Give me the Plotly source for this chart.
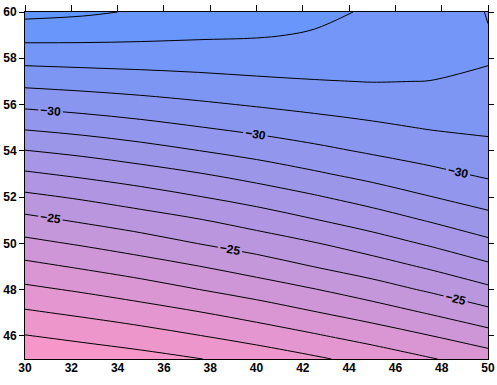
import plotly.graph_objects as go

# Longitudes (x) and latitudes (y) of the field grid
lon = [30, 32.5, 35, 37.5, 40, 42.5, 45, 47.5, 50]
lat = [45, 46, 47, 48, 49, 50, 51, 52, 53, 54, 55, 56, 57, 58, 59, 60]

# Field values per latitude row
t45 = [-19.10, -19.35, -19.63, -19.97, -20.38, -20.85, -21.36, -21.93, -22.48]
t46 = [-19.96, -20.26, -20.58, -20.97, -21.40, -21.89, -22.42, -22.98, -23.61]
t47 = [-20.86, -21.18, -21.54, -21.95, -22.42, -22.94, -23.47, -24.08, -24.73]
t48 = [-21.78, -22.13, -22.53, -22.99, -23.45, -23.96, -24.54, -25.14, -25.79]
t49 = [-22.73, -23.12, -23.53, -23.98, -24.48, -25.02, -25.54, -26.14, -26.81]
t50 = [-23.73, -24.12, -24.55, -25.02, -25.47, -25.95, -26.52, -27.13, -27.78]
t51 = [-24.73, -25.13, -25.53, -25.94, -26.42, -26.95, -27.49, -28.08, -28.66]
t52 = [-25.77, -26.13, -26.53, -26.96, -27.41, -27.90, -28.43, -28.97, -29.45]
t53 = [-26.86, -27.20, -27.56, -27.95, -28.39, -28.87, -29.33, -29.76, -30.15]
t54 = [-27.97, -28.26, -28.61, -28.99, -29.37, -29.76, -30.13, -30.44, -30.73]
t55 = [-29.11, -29.36, -29.65, -29.96, -30.26, -30.55, -30.82, -31.06, -31.17]
t56 = [-30.21, -30.41, -30.63, -30.86, -31.08, -31.28, -31.44, -31.52, -31.48]
t57 = [-31.30, -31.43, -31.56, -31.70, -31.85, -31.96, -32.02, -31.99, -31.79]
t58 = [-32.33, -32.39, -32.43, -32.47, -32.50, -32.45, -32.35, -32.25, -32.10]
t59 = [-33.33, -33.29, -33.22, -33.13, -33.07, -32.93, -32.65, -32.45, -32.04]
t60 = [-34.30, -34.15, -33.90, -33.60, -33.45, -33.20, -32.90, -32.60, -31.96]

x_ticks = [30, 32, 34, 36, 38, 40, 42, 44, 46, 48, 50]
y_ticks = [46, 48, 50, 52, 54, 56, 58, 60]
labeled_levels = [-30, -25]

temp = [t45, t46, t47, t48, t49, t50, t51, t52, t53, t54, t55, t56, t57, t58, t59, t60]

BLUE = "#5f96ff"
PINK = "#f796c8"
SMOOTH = 1

fig = go.Figure()

# Filled bands (primary axes)
fig.add_trace(go.Contour(
    x=lon, y=lat, z=temp,
    autocontour=False,
    contours=dict(start=-34, end=-20, size=1, coloring="fill", showlines=False),
    colorscale=[[0, BLUE], [1, PINK]],
    showscale=False,
    line=dict(width=0, smoothing=SMOOTH),
    hoverinfo="skip",
))

# Unlabelled contour lines (overlay x axis carrying the bottom labels)
for s, e in [(-34, -31), (-29, -26), (-24, -20)]:
    fig.add_trace(go.Contour(
        x=lon, y=lat, z=temp, xaxis="x2", yaxis="y",
        autocontour=False,
        contours=dict(start=s, end=e, size=1, coloring="none"),
        line=dict(color="black", width=1, smoothing=SMOOTH),
        showscale=False, hoverinfo="skip",
    ))

# Labelled contour lines
for lvl in labeled_levels:
    fig.add_trace(go.Contour(
        x=lon, y=lat, z=temp, xaxis="x2", yaxis="y",
        autocontour=False,
        contours=dict(start=lvl, end=lvl + 1000 * 59, size=1000, coloring="none",
                      showlabels=True, labelformat="d",
                      labelfont=dict(family="Liberation Sans", size=12, color="black",
                                     weight="bold")),
        line=dict(color="black", width=1, smoothing=SMOOTH),
        showscale=False, hoverinfo="skip",
    ))

tickfont = dict(family="Liberation Sans", size=12, color="black", weight="bold")

fig.update_layout(
    width=497, height=385,
    margin=dict(l=25, r=9, t=12, b=26),
    paper_bgcolor="white", plot_bgcolor="white",
    showlegend=False,
    # top axis: ticks only, line mirrored to the bottom
    xaxis=dict(type="linear", side="top", range=[30, 50], tickvals=x_ticks,
               ticks="outside", ticklen=6, tickwidth=1, tickcolor="black",
               showticklabels=False, showline=True, mirror=True,
               linecolor="black", linewidth=1,
               showgrid=False, zeroline=False, automargin=False),
    # bottom axis: labels only
    xaxis2=dict(type="linear", overlaying="x", side="bottom", anchor="y", range=[30, 50],
                tickvals=x_ticks, ticktext=[str(v) for v in x_ticks],
                ticks="", showline=False, showgrid=False, zeroline=False,
                tickfont=tickfont, automargin=False, ticklabeloverflow="allow"),
    yaxis=dict(type="linear", range=[45, 60], tickvals=y_ticks,
               ticktext=[str(v) for v in y_ticks],
               ticks="outside", ticklen=5, tickwidth=1, tickcolor="black",
               showline=True, mirror="ticks", linecolor="black", linewidth=1,
               showgrid=False, zeroline=False, tickfont=tickfont, automargin=False,
               ticklabeloverflow="allow"),
)

fig.write_html("out.html", config={"displayModeBar": False},
               post_script="document.body.style.margin='0';document.body.style.overflow='hidden';")
